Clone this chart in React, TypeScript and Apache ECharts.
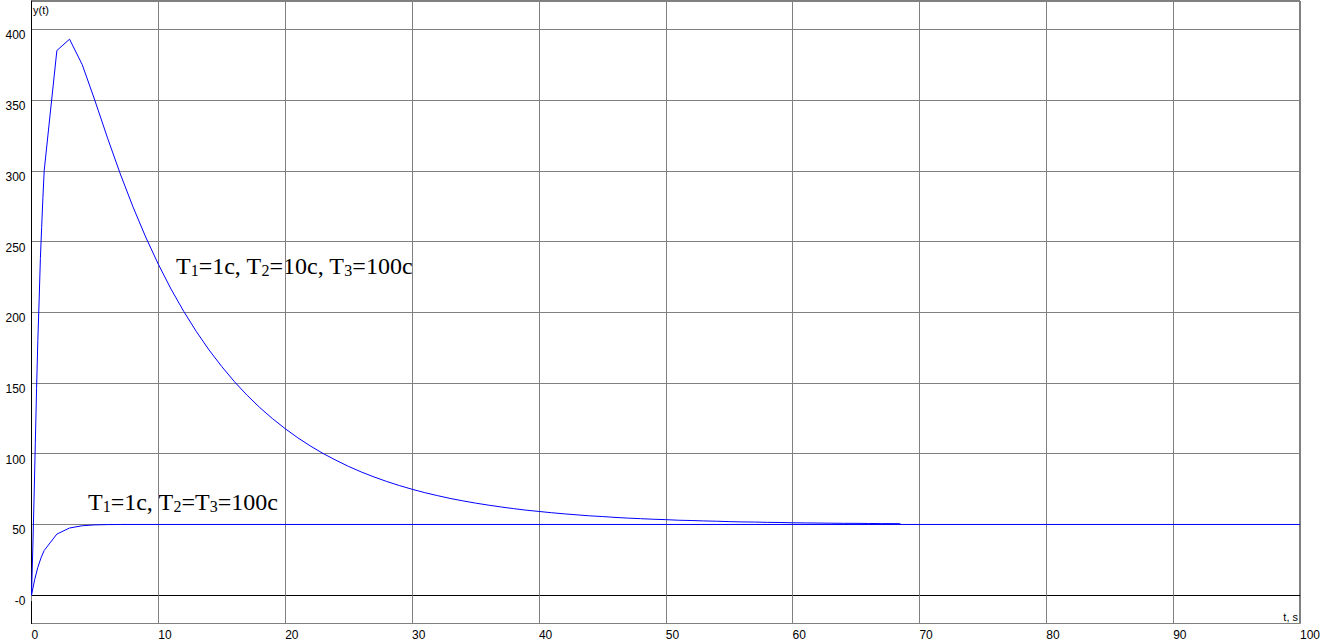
import React, { useEffect, useRef } from "react";
import * as echarts from "echarts";

// Series 1: T1=1c, T2=10c, T3=100c
const time1 = [
  0, 0.1, 0.2, 0.3, 0.4, 0.5, 0.6, 0.7, 0.8, 0.9, 1,
  2, 3, 4, 5, 6, 7, 8, 9, 10,
  11, 12, 13, 14, 15, 16, 17, 18, 19, 20,
  21, 22, 23, 24, 25, 26, 27, 28, 29, 30,
  31, 32, 33, 34, 35, 36, 37, 38, 39, 40,
  41, 42, 43, 44, 45, 46, 47, 48, 49, 50,
  51, 52, 53, 54, 55, 56, 57, 58, 59, 60,
  61, 62, 63, 64, 65, 66, 67, 68, 68.5,
];
const values1 = [
  0, 32, 68, 107, 146, 180, 208, 238, 260, 281, 300,
  385, 393, 375, 349.6, 323, 297.8, 274.5, 253.2, 233.9,
  216.4, 200.6, 186.3, 173.3, 161.6, 150.9, 141.3, 132.6, 124.8, 117.7,
  111.2, 105.4, 100.1, 95.4, 91.0, 87.1, 83.6, 80.4, 77.5, 74.9,
  72.5, 70.4, 68.4, 66.7, 65.1, 63.7, 62.4, 61.2, 60.1, 59.2,
  58.3, 57.5, 56.8, 56.1, 55.6, 55.0, 54.5, 54.1, 53.7, 53.4,
  53.0, 52.8, 52.5, 52.3, 52.0, 51.8, 51.7, 51.5, 51.4, 51.2,
  51.1, 51.0, 50.9, 50.8, 50.8, 50.7, 50.6, 50.6, 50.5,
];

// Series 2: T1=1c, T2=T3=100c
const time2 = [0, 0.25, 0.5, 0.75, 1, 2, 3, 4, 5, 6, 7, 8, 100];
const values2 = [0, 11, 19.7, 26.4, 31.6, 43.2, 47.5, 49.1, 49.7, 49.9, 50, 50, 50];

// Zero reference line
const time3 = [0, 100];
const values3 = [0, 0];

const xTicks = { min: 0, max: 100, interval: 10 };
const yRange = { min: -20, max: 420 };

const label1 = "{m|T}{s|1}{m|=1c, T}{s|2}{m|=10c, T}{s|3}{m|=100c}";
const label2 = "{m|T}{s|1}{m|=1c, T}{s|2}{m|=T}{s|3}{m|=100c}";

const pairs = (xs: number[], ys: number[]) => xs.map((x, i) => [x, ys[i]]);

export default function App() {
  const ref = useRef<HTMLDivElement>(null);

  useEffect(() => {
    if (!ref.current) return;
    const chart = echarts.init(ref.current, undefined, { renderer: "svg" });
    const rich = {
      m: { fontFamily: "Liberation Serif", fontSize: 24, lineHeight: 24, color: "#000", verticalAlign: "bottom" },
      s: { fontFamily: "Liberation Serif", fontSize: 16, lineHeight: 12, color: "#000", verticalAlign: "bottom" },
    };
    chart.setOption({
      animation: false,
      backgroundColor: "#ffffff",
      grid: {
        left: 31.5,
        right: 24,
        top: 1,
        bottom: 20.5,
        show: true,
        borderColor: "#000",
        borderWidth: 1,
        backgroundColor: "transparent",
      },
      xAxis: {
        type: "value",
        min: xTicks.min,
        max: xTicks.max,
        interval: xTicks.interval,
        axisLine: { show: true, lineStyle: { color: "#000", width: 1 } },
        axisTick: { show: true, length: 6, lineStyle: { color: "#808080" } },
        splitLine: { show: true, lineStyle: { color: "#808080", width: 1 } },
        axisLabel: {
          color: "#000",
          fontFamily: "Liberation Sans",
          fontSize: 12,
          align: "left",
          margin: 5,
        },
      },
      yAxis: {
        type: "value",
        min: yRange.min,
        max: yRange.max,
        splitNumber: 9,
        axisLine: { show: true, lineStyle: { color: "#000", width: 1 } },
        axisTick: { show: false },
        splitLine: { show: true, lineStyle: { color: "#808080", width: 1 } },
        axisLabel: {
          color: "#000",
          fontFamily: "Liberation Sans",
          fontSize: 12,
          verticalAlign: "top",
          margin: 6,
          showMinLabel: false,
          showMaxLabel: false,
          formatter: (v: number) => (v === 0 ? "-0" : String(v)),
        },
      },
      series: [
        {
          type: "line",
          data: pairs(time3, values3),
          showSymbol: false,
          lineStyle: {
            color: "#ff00ff",
            width: 1,
            shadowColor: "#000",
            shadowOffsetY: 1,
            shadowBlur: 0,
          },
          z: 3,
        },
        {
          type: "line",
          data: pairs(time2, values2),
          showSymbol: false,
          lineStyle: { color: "#0000ff", width: 1 },
          z: 4,
        },
        {
          type: "line",
          data: pairs(time1, values1),
          showSymbol: false,
          lineStyle: { color: "#0000ff", width: 1 },
          z: 5,
        },
      ],
      graphic: [
        {
          type: "text",
          left: 33,
          top: 4,
          style: { text: "y(t)", font: "11px 'Liberation Sans'", fill: "#000" },
        },
        {
          type: "text",
          right: 26,
          top: 611,
          style: { text: "t, s", font: "11px 'Liberation Sans'", fill: "#000" },
        },
        {
          type: "text",
          left: 176,
          top: 254,
          style: { text: label1, rich, fill: "#000" },
        },
        {
          type: "text",
          left: 88,
          top: 490,
          style: { text: label2, rich, fill: "#000" },
        },
      ],
    });
    return () => chart.dispose();
  }, []);

  return (
    <div
      ref={ref}
      style={{ position: "fixed", left: 0, top: 0, width: 1324, height: 644, background: "#fff" }}
    />
  );
}
